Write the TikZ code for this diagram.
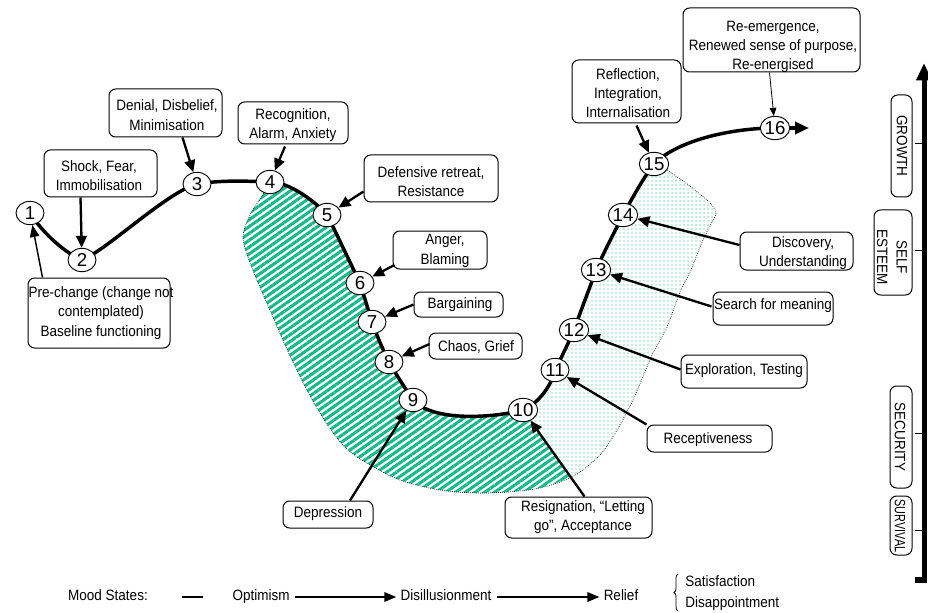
\documentclass[tikz,border=0pt]{standalone}
\usepackage{graphicx}
\usepackage{fontspec}
\setmainfont{Liberation Sans}[FakeStretch=0.9]
\newfontfamily\numsans{Liberation Sans}
\usetikzlibrary{arrows.meta,patterns.meta,decorations.pathreplacing,calc,shapes.geometric}
\definecolor{seagreen}{RGB}{22,185,140}
\pgfdeclarelayer{bg}
\pgfdeclarelayer{mid}
\pgfsetlayers{bg,mid,main}
\newcommand\boxfont{\fontsize{11.25pt}{14.5pt}\selectfont}
\newcommand\legendfont{\fontsize{11.25pt}{14pt}\selectfont}
\newcommand\stagefont{\numsans\fontsize{14pt}{16pt}\selectfont}

\begin{document}
\begin{tikzpicture}[x=0.75pt,y=-0.75pt,
  stage/.style={ellipse, draw, line width=0.7pt, fill=white, inner sep=0pt,
                minimum width=21pt, minimum height=17.5pt, font=\stagefont},
  frame/.style={draw, rounded corners=5pt, line width=0.75pt, inner sep=0pt},
  txt/.style={inner sep=0pt, align=center, font=\boxfont},
  curve/.style={line width=2.6pt, line cap=round, line join=round},
  parrow/.style={line width=1.75pt, -{Triangle[length=9pt,width=8pt]}},
  prearrow/.style={line width=1.1pt, -{Triangle[length=9pt,width=7pt]}},
  thinarrow/.style={line width=0.6pt, -{Triangle[length=6pt,width=5pt]}},
  legend/.style={inner sep=0pt, font=\legendfont, text height=8.2pt, text depth=2.3pt},
  larrow/.style={line width=1.5pt, -{Triangle[length=9pt,width=7pt]}, shorten <=4pt, shorten >=3pt},
  tick/.style={line width=0.6pt}]

\useasboundingbox (0,0) rectangle (928,613);

% ---------- stages on the curve ----------
\node[stage] (n1)  at (30,213)  {1};
\node[stage] (n2)  at (82,260)  {2};
\node[stage] (n3)  at (197,184) {3};
\node[stage] (n4)  at (270,182) {4};
\node[stage] (n5)  at (327,215) {5};
\node[stage] (n6)  at (360,283) {6};
\node[stage] (n7)  at (372,322) {7};
\node[stage] (n8)  at (389,362) {8};
\node[stage] (n9)  at (413,400) {9};
\node[stage] (n10) at (523,410) {10};
\node[stage] (n11) at (555,370) {11};
\node[stage] (n12) at (574,330) {12};
\node[stage] (n13) at (596,270) {13};
\node[stage] (n14) at (623,215) {14};
\node[stage] (n15) at (654,164) {15};
\node[stage] (n16) at (775,128) {16};
\coordinate (cEnd) at (809,128);

% ---------- shaded bands ----------
\begin{pgfonlayer}{bg}
  % striped band: stages 4 to 10
  \fill[pattern={Lines[angle=35,distance=4.2pt,line width=2.3pt]}, pattern color=seagreen]
    (n4.center) -- plot[smooth] coordinates {(266,190) (250,215) (243,238) (252,268) (272,315)
      (292,360) (318,410) (348,450) (395,478) (440,490) (485,493) (535,489) (572,477)}
    -- (n10.center)
    .. controls +(-30,8) and +(20,22) .. (n9.center)
    .. controls +(-8,-12) and +(8,14) .. (n8.center)
    .. controls +(-6,-12) and +(5,14) .. (n7.center)
    .. controls +(-4,-13) and +(4,13) .. (n6.center)
    .. controls +(-6,-12) and +(8,15) .. (n5.center)
    .. controls +(-10,-12) and +(20,0) .. (n4.center) -- cycle;
  % dotted band: stages 10 to 15
  \fill[pattern={Dots[distance=3pt,radius=0.55pt]}, pattern color=seagreen]
    (n10.center) -- plot[smooth] coordinates {(572,477) (600,455) (617,430) (633,400) (653,353)
      (667,327) (680,292) (690,272) (703,240) (712,222) (716,213) (710,203) (690,186) (667,170)}
    -- (n15.center)
    .. controls +(-12,16) and +(10,-18) .. (n14.center)
    .. controls +(-9,18) and +(9,-20) .. (n13.center)
    .. controls +(-7,20) and +(7,-20) .. (n12.center)
    .. controls +(-6,14) and +(7,-14) .. (n11.center)
    .. controls +(-3,15) and +(15,-6) .. (n10.center) -- cycle;
  % outer border of both bands
  \draw[densely dotted, line width=0.5pt]
    plot[smooth] coordinates {(266,190) (250,215) (243,238) (252,268) (272,315)
      (292,360) (318,410) (348,450) (395,478) (440,490) (485,493) (535,489) (572,477)
      (600,455) (617,430) (633,400) (653,353) (667,327) (680,292) (690,272) (703,240)
      (712,222) (716,213) (710,203) (690,186) (667,170)};
\end{pgfonlayer}

% ---------- the change curve ----------
\begin{pgfonlayer}{mid}
  \draw[curve] (n1.center)
    .. controls +(14,22) and +(-15,-6) .. (n2.center)
    .. controls +(25,-10) and +(-30,8) .. (n3.center)
    .. controls +(25,-4) and +(-25,-1) .. (n4.center)
    .. controls +(20,0) and +(-10,-12) .. (n5.center)
    .. controls +(8,15) and +(-6,-12) .. (n6.center)
    .. controls +(4,13) and +(-4,-13) .. (n7.center)
    .. controls +(5,14) and +(-6,-12) .. (n8.center)
    .. controls +(8,14) and +(-8,-12) .. (n9.center)
    .. controls +(20,22) and +(-30,8) .. (n10.center)
    .. controls +(15,-6) and +(-3,15) .. (n11.center)
    .. controls +(7,-14) and +(-6,14) .. (n12.center)
    .. controls +(7,-20) and +(-7,20) .. (n13.center)
    .. controls +(9,-20) and +(-9,18) .. (n14.center)
    .. controls +(10,-18) and +(-12,16) .. (n15.center)
    .. controls +(25,-25) and +(-40,0) .. (n16.center);
\end{pgfonlayer}
\draw[line width=2.6pt, -{Triangle[length=10.5pt,width=9pt]}] (n16) -- (cEnd);

% ---------- label boxes ----------
\node[frame, minimum width=106.5pt, minimum height=52.5pt] (bPre) at (99,313) {};
\node[txt] (tPre) at (101,313) {Pre-change (change not\\contemplated)\\Baseline functioning};
\node[frame, minimum width=84.75pt, minimum height=35.25pt] (bShock) at (100.5,173.5) {};
\node[txt] (tShock) at (99,175.5) {Shock, Fear,\\Immobilisation};
\node[frame, minimum width=84.75pt, minimum height=36pt] (bDenial) at (165.5,113) {};
\node[txt] (tDenial) at (167,115) {Denial, Disbelief,\\Minimisation};
\node[frame, minimum width=82.5pt, minimum height=31.5pt] (bRecog) at (293,123) {};
\node[txt] (tRecog) at (293,125) {Recognition,\\Alarm, Anxiety};
\node[frame, minimum width=100.5pt, minimum height=35.25pt] (bDef) at (431,178.5) {};
\node[txt] (tDef) at (431,181.5) {Defensive retreat,\\Resistance};
\node[frame, minimum width=70.5pt, minimum height=28.5pt] (bAnger) at (440,250) {};
\node[txt] (tAnger) at (445,251) {Anger,\\Blaming};
\node[frame, minimum width=66.75pt, minimum height=18.75pt] (bBarg) at (458.5,304.5) {};
\node[txt] (tBarg) at (460,305) {Bargaining};
\node[frame, minimum width=69.75pt, minimum height=19.5pt] (bChaos) at (475.5,346) {};
\node[txt] (tChaos) at (476,347) {Chaos, Grief};
\node[frame, minimum width=67.5pt, minimum height=20.25pt] (bDep) at (328,514.5) {};
\node[txt] (tDep) at (328,514) {Depression};
\node[frame, minimum width=110.25pt, minimum height=30.75pt] (bRes) at (578.5,517.5) {};
\node[txt] (tRes) at (583,517) {Resignation, ``Letting\\go'', Acceptance};
\node[frame, minimum width=93.75pt, minimum height=20.25pt] (bRec) at (709.5,438.5) {};
\node[txt] (tRec) at (708,440) {Receptiveness};
\node[frame, minimum width=94.5pt, minimum height=24.75pt] (bExp) at (744,371.5) {};
\node[txt] (tExp) at (744,371) {Exploration, Testing};
\node[frame, minimum width=90pt, minimum height=24.75pt] (bSearch) at (773,308.5) {};
\node[txt] (tSearch) at (773,306) {Search for meaning};
\node[frame, minimum width=84.75pt, minimum height=28.5pt] (bDisc) at (796.5,251) {};
\node[txt] (tDisc) at (803,253) {Discovery,\\Understanding};
\node[frame, minimum width=81.75pt, minimum height=47.25pt] (bRefl) at (626.5,91.5) {};
\node[txt] (tRefl) at (628,93) {Reflection,\\Integration,\\Internalisation};
\node[frame, minimum width=132.75pt, minimum height=48pt] (bRe) at (771.5,40) {};
\node[txt] (tRe) at (773,47) {Re-emergence,\\Renewed sense of purpose,\\Re-energised};

% ---------- pointers from labels to stages ----------
\draw[prearrow] ($(bPre.north west)+(15,0)$) -- (n1);
\draw[parrow] ($(bShock.south)+(-20,0)$) -- (n2);
\draw[parrow] ($(bDenial.south)+(17,0)$) -- (n3);
\draw[parrow] ($(bRecog.south)+(-8,2)$) -- (n4);
\draw[parrow] ($(bDef.west)+(0,13)$) -- (n5);
\draw[parrow] ($(bAnger.west)+(2,15)$) -- (n6);
\draw[parrow] (bBarg.west) -- (n7);
\draw[parrow] ($(bChaos.west)+(1,-2)$) -- (n8);
\draw[parrow] ($(bDep.north)+(22,0)$) -- (n9);
\draw[parrow] ($(bRes.north)+(6,0)$) -- (n10);
\draw[parrow] (bRec.north west) -- (n11);
\draw[parrow] ($(bExp.west)+(0,-2)$) -- (n12);
\draw[parrow] ($(bSearch.west)+(-1,-2)$) -- (n13);
\draw[parrow] ($(bDisc.west)+(0,-6)$) -- (n14);
\draw[parrow] ($(bRefl.south)+(10,2)$) -- (n15);
\draw[thinarrow] ($(bRe.south)+(-2,0)$) -- (n16);

% ---------- needs axis ----------
\coordinate (axBot) at (924,580);
\coordinate (axTop) at (924,63);
\draw[line width=3.75pt, -{Triangle[length=13pt,width=11pt]}] (axBot) -- (axTop);
\coordinate (footL) at (915,580);
\coordinate (footR) at (927,580);
\draw[line width=4.5pt] (footL) -- (footR);
\foreach \ty/\tn in {143/tkA,250/tkB,433/tkC,530/tkD}{
  \coordinate (\tn a) at (915,\ty);
  \coordinate (\tn b) at (924,\ty);
  \draw[tick] (\tn a) -- (\tn b);
}
\node[frame, minimum width=15.75pt, minimum height=76.5pt] (fGrowth) at (901.5,146) {};
\node[txt, rotate=-90] (tGrowth) at (902,146) {GROWTH};
\node[frame, minimum width=28.5pt, minimum height=63.75pt] (fEsteem) at (893,252.5) {};
\node[txt, rotate=-90] (tEsteem) at (892,257) {SELF\\ESTEEM};
\node[frame, minimum width=16.5pt, minimum height=76.5pt] (fSecurity) at (901,437) {};
\node[txt, rotate=-90] (tSecurity) at (900,437) {SECURITY};
\node[frame, minimum width=16.5pt, minimum height=44.25pt] (fSurvival) at (901,525.5) {};
\node[txt, rotate=-90] (tSurvival) at (900,526) {\scalebox{0.8}[1]{SURVIVAL}};

% ---------- mood states ----------
\node[legend] (lMood) at (108,597) {Mood States:};
\coordinate (dashA) at (182,597);
\coordinate (dashB) at (203,597);
\draw[line width=2.2pt] (dashA) -- (dashB);
\node[legend] (lOpt) at (261,597) {Optimism};
\node[legend] (lDis) at (446,597) {Disillusionment};
\node[legend] (lRel) at (621,597) {Relief};
\draw[larrow] (lOpt) -- (lDis);
\draw[larrow] (lDis) -- (lRel);
\coordinate (brBot) at (678,611);
\coordinate (brTop) at (678,574);
\draw[decorate, decoration={brace, amplitude=3pt}, line width=0.6pt] (brBot) -- (brTop);
\node[legend, anchor=west] (lSat) at (685,583) {Satisfaction};
\node[legend, anchor=west] (lDisap) at (685,604) {Disappointment};
\end{tikzpicture}
\end{document}
